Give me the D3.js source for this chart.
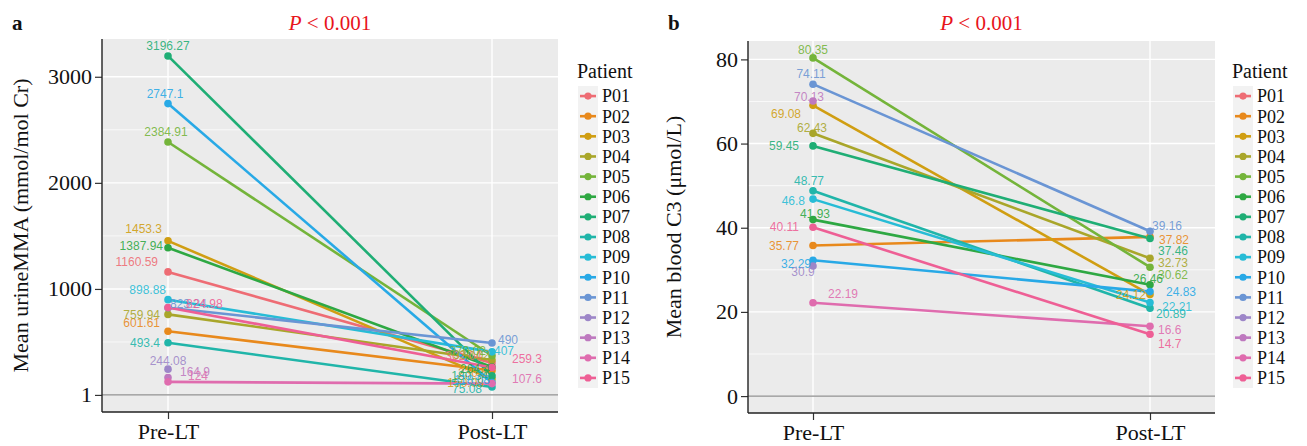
<!DOCTYPE html>
<html>
<head>
<meta charset="utf-8">
<script src="https://cdn.jsdelivr.net/npm/d3@7"></script>
<style>
  body { margin: 0; background: #fff; }
  svg text { font-family: "Liberation Serif", "Times New Roman", serif; }
</style>
</head>
<body>
<svg id="chart" width="1307" height="446"></svg>
<script>
var patients = ["P01", "P02", "P03", "P04", "P05", "P06", "P07", "P08", "P09", "P10", "P11", "P12", "P13", "P14", "P15"];
var timepoints = ["Pre-LT", "Post-LT"];
var patientColors = ["#EE6C74", "#E8891C", "#D09E12", "#A9A62A", "#74B43A", "#2EA843", "#1FAE75", "#20B5A9",
                     "#27BCD6", "#28A9E6", "#6A95D4", "#9D86C8", "#BE79BF", "#DF6CAE", "#EE5F95"];

// panel a: urine MMA
var urinePre  = [1160.59, 601.61, 1453.3, 759.94, 2384.91, 1387.94, 3196.27, 493.4, 898.88, 2747.1, 823.24, 244.08, 164.9, 124, 824.98];
var urinePost = [302.04, 230.5, 150.08, 330.02, 370.02, 264.4, 180.34, 75.08, 407, 118.08, 490, null, null, 107.6, 259.3];
var urineTicks = [1, 1000, 2000, 3000];
var urineMinor = [500, 1500, 2500];

// panel b: blood C3
var c3Pre  = [null, 35.77, 69.08, 62.43, 80.35, 41.93, 59.45, 48.77, 46.8, 32.29, 74.11, 30.9, 70.13, 22.19, 40.11];
var c3Post = [null, 37.82, 24.12, 32.73, 30.62, 26.46, 37.46, 20.89, 22.21, 24.83, 39.16, null, null, 16.6, 14.7];
var c3Ticks = [0, 20, 40, 60, 80];
var c3Minor = [10, 30, 50, 70];

// label nudges [dx, dy, anchor] per patient, pre then post (layout only)
var urineNudgePre = {
    P01: [-10, -10, "end"], P02: [-8, -8, "end"], P03: [-6, -12, "end"], P04: [-8, 0, "end"],
    P05: [-2, -10, "middle"], P06: [-5, -2, "end"], P07: [0, -10, "middle"], P08: [-8, 0, "end"],
    P09: [-2, -10, "end"], P10: [-3, -10, "middle"], P11: [2, -4, "start"], P12: [0, -8, "middle"],
    P13: [12, -6, "start"], P14: [20, -6, "start"], P15: [18, -4, "start"]
};
var urineNudgePost = {
    P01: [-10, -7, "end"], P02: [-4, 2, "end"], P03: [-8, 4, "end"], P04: [-2, -5, "end"],
    P05: [-6, -5, "end"], P06: [-2, 2, "end"], P07: [-4, 0, "end"], P08: [-10, 2, "end"],
    P09: [2, -1, "start"], P10: [-2, -3, "end"], P11: [6, -3, "start"], P14: [20, -5, "start"],
    P15: [20, -9, "start"]
};
var c3NudgePre = {
    P02: [-14, 0, "end"], P03: [-12, 8, "end"], P04: [-1, -6, "middle"], P05: [0, -8, "middle"],
    P06: [2, -6, "middle"], P07: [-14, 0, "end"], P08: [-4, -10, "middle"], P09: [-8, 2, "end"],
    P10: [-2, 4, "end"], P11: [-2, -10, "middle"], P12: [-10, 6, "middle"], P13: [-4, -4, "middle"],
    P14: [15, -9, "start"], P15: [-14, 0, "end"]
};
var c3NudgePost = {
    P02: [9, 3, "start"], P03: [-4, 0, "end"], P04: [8, 4, "start"], P05: [8, 8, "start"],
    P06: [-2, -6, "middle"], P07: [8, 12, "start"], P08: [6, 6, "start"], P09: [12, 4, "start"],
    P10: [16, 0, "start"], P11: [2, -5, "start"], P14: [8, 4, "start"], P15: [8, 10, "start"]
};

var svg = d3.select("#chart");

function drawPanel(p) {
    var x = d3.scalePoint().domain(timepoints).range([p.left + p.pad, p.right - p.pad]);
    var y = d3.scaleLinear().domain(p.domain).range([p.bottom, p.top]);
    var color = d3.scaleOrdinal().domain(patients).range(patientColors);
    var g = svg.append("g");

    g.append("rect")
        .attr("x", p.left).attr("y", p.top)
        .attr("width", p.right - p.left).attr("height", p.bottom - p.top)
        .attr("fill", "#EBEBEB");

    g.selectAll(".minor").data(p.minor).enter().append("line")
        .attr("x1", p.left).attr("x2", p.right)
        .attr("y1", function(d) { return y(d); }).attr("y2", function(d) { return y(d); })
        .attr("stroke", "#fff").attr("stroke-width", 0.7);
    g.selectAll(".major").data(p.ticks).enter().append("line")
        .attr("x1", p.left).attr("x2", p.right)
        .attr("y1", function(d) { return y(d); }).attr("y2", function(d) { return y(d); })
        .attr("stroke", "#fff").attr("stroke-width", 1.4);
    g.selectAll(".vgrid").data(timepoints).enter().append("line")
        .attr("x1", function(d) { return x(d); }).attr("x2", function(d) { return x(d); })
        .attr("y1", p.top).attr("y2", p.bottom)
        .attr("stroke", "#fff").attr("stroke-width", 1.4);

    // reference line
    g.append("line")
        .attr("x1", p.left).attr("x2", p.right)
        .attr("y1", y(p.hline)).attr("y2", y(p.hline))
        .attr("stroke", "#8C8C8C").attr("stroke-width", 1.2);

    var rows = patients.map(function(id, i) {
        return { id: id, pre: p.pre[i], post: p.post[i] };
    }).filter(function(d) { return d.pre != null; });

    g.selectAll(".seg").data(rows.filter(function(d) { return d.post != null; })).enter().append("line")
        .attr("x1", x("Pre-LT")).attr("x2", x("Post-LT"))
        .attr("y1", function(d) { return y(d.pre); })
        .attr("y2", function(d) { return y(d.post); })
        .attr("stroke", function(d) { return color(d.id); })
        .attr("stroke-width", 2.6);

    var pts = [];
    rows.forEach(function(d) {
        pts.push({ id: d.id, t: "Pre-LT", v: d.pre, n: p.nudgePre[d.id] || [-6, -6, "end"] });
        if (d.post != null) pts.push({ id: d.id, t: "Post-LT", v: d.post, n: p.nudgePost[d.id] || [6, 4, "start"] });
    });

    g.selectAll(".pt").data(pts).enter().append("circle")
        .attr("cx", function(d) { return x(d.t); })
        .attr("cy", function(d) { return y(d.v); })
        .attr("r", 3.8)
        .attr("fill", function(d) { return color(d.id); });

    g.selectAll(".lab").data(pts).enter().append("text")
        .attr("x", function(d) { return x(d.t) + d.n[0]; })
        .attr("y", function(d) { return y(d.v) + d.n[1]; })
        .attr("dy", "0.35em")
        .attr("text-anchor", function(d) { return d.n[2]; })
        .style("font-family", "'Liberation Sans', Arial, sans-serif")
        .style("font-size", "12px")
        .attr("fill", function(d) { return color(d.id); })
        .attr("fill-opacity", 0.9)
        .text(function(d) { return String(d.v); });

    // axes
    var yAxis = g.append("g")
        .attr("transform", "translate(" + p.left + ",0)")
        .call(d3.axisLeft(y).tickValues(p.ticks).tickSize(7).tickPadding(3).tickFormat(d3.format("d")));
    var xAxis = g.append("g")
        .attr("transform", "translate(0," + p.bottom + ")")
        .call(d3.axisBottom(x).tickSize(7).tickPadding(4));
    [yAxis, xAxis].forEach(function(a) {
        a.select(".domain").remove();
        a.selectAll("line").attr("stroke", "#333").attr("stroke-width", 1.2);
        a.selectAll("text").attr("fill", "#111")
            .style("font-family", "'Liberation Serif', serif").style("font-size", "22px");
    });
    g.append("line").attr("x1", p.left).attr("x2", p.left).attr("y1", p.top).attr("y2", p.bottom)
        .attr("stroke", "#222").attr("stroke-width", 1.4);
    g.append("line").attr("x1", p.left).attr("x2", p.right).attr("y1", p.bottom).attr("y2", p.bottom)
        .attr("stroke", "#222").attr("stroke-width", 1.4);

    g.append("text")
        .attr("transform", "translate(" + p.ylabX + "," + ((p.top + p.bottom) / 2) + ") rotate(-90)")
        .attr("text-anchor", "middle")
        .attr("dy", "0.35em")
        .style("font-size", "22px")
        .attr("fill", "#111")
        .text(p.ylab);

    var title = g.append("text")
        .attr("x", (p.left + p.right) / 2).attr("y", 30)
        .attr("text-anchor", "middle")
        .style("font-size", "21px")
        .attr("fill", "#E8141B");
    title.append("tspan").style("font-style", "italic").text("P");
    title.append("tspan").text(" < 0.001");

    g.append("text")
        .attr("x", p.tagX).attr("y", 30)
        .style("font-size", "21px").style("font-weight", "bold")
        .attr("fill", "#111")
        .text(p.tag);

    // legend
    var leg = g.append("g").attr("transform", "translate(" + p.legX + ",0)");
    leg.append("text").attr("x", 0).attr("y", 78)
        .style("font-size", "20px").attr("fill", "#111").text("Patient");
    var keyY = d3.scaleBand().domain(patients).range([86, 388]);
    leg.append("rect").attr("x", 1).attr("y", 86).attr("width", 20).attr("height", 302)
        .attr("fill", "#F2F2F2");
    var item = leg.selectAll(".key").data(patients).enter().append("g")
        .attr("transform", function(d) { return "translate(0," + (keyY(d) + keyY.bandwidth() / 2) + ")"; });
    item.append("line").attr("x1", 3).attr("x2", 19)
        .attr("stroke", function(d) { return color(d); }).attr("stroke-width", 2.6);
    item.append("circle").attr("cx", 11).attr("r", 3.6)
        .attr("fill", function(d) { return color(d); });
    item.append("text").attr("x", 25).attr("dy", "0.35em")
        .style("font-size", "18px").attr("fill", "#111")
        .text(function(d) { return d; });
}

drawPanel({
    tag: "a", tagX: 12, left: 102, right: 558, top: 39, bottom: 412, pad: 66,
    domain: [-160, 3356], ticks: urineTicks, minor: urineMinor, hline: 1,
    pre: urinePre, post: urinePost, nudgePre: urineNudgePre, nudgePost: urineNudgePost,
    ylab: "Mean urineMMA (mmol/mol Cr)", ylabX: 20, legX: 577
});

drawPanel({
    tag: "b", tagX: 668, left: 748, right: 1215, top: 41, bottom: 413, pad: 65,
    domain: [-4.02, 84.37], ticks: c3Ticks, minor: c3Minor, hline: 0,
    pre: c3Pre, post: c3Post, nudgePre: c3NudgePre, nudgePost: c3NudgePost,
    ylab: "Mean blood C3 (\u03bcmol/L)", ylabX: 673, legX: 1232
});
</script>
</body>
</html>
